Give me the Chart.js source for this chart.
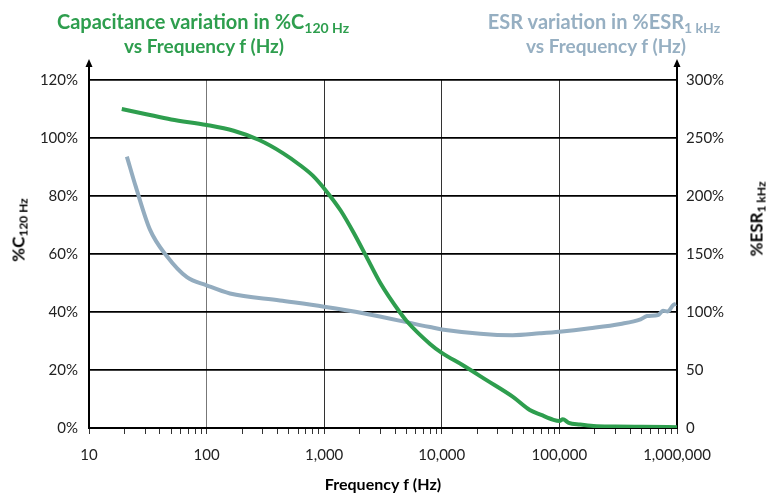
<!DOCTYPE html>
<html>
<head>
<meta charset="utf-8">
<script src="https://cdn.jsdelivr.net/npm/chart.js@4/dist/chart.umd.min.js"></script>
<style>
  body { margin: 0; background: #fff; overflow: hidden; }
  #wrap { position: relative; width: 768px; height: 494px; font-family: Lato, "Open Sans", sans-serif; }
  canvas { position: absolute; left: 0; top: 0; }
  .ttl { position: absolute; font-weight: bold; line-height: 24px; text-align: center; white-space: nowrap; transform: translateX(-50%); }
  .ttl.l1 { font-size: 20px; top: 9px; }
  .ttl.l2 { font-size: 19px; top: 34px; }
  .ttl sub { font-size: 14px; vertical-align: -4px; }
  .ytitle { position: absolute; font-weight: bold; font-size: 17px; white-space: nowrap; color: #000; }
  .ytitle sub { font-size: 12px; vertical-align: -3px; }
</style>
</head>
<body>
<div id="wrap">
  <canvas id="chart" width="768" height="494"></canvas>
  <div class="ttl l1" style="left:203px; color:#2e9e4e;">Capacitance variation in %C<sub>120 Hz</sub></div>
  <div class="ttl l2" style="left:204px; color:#2e9e4e;">vs Frequency f (Hz)</div>
  <div class="ttl l1" style="left:604px; color:#96afc2;">ESR variation in %ESR<sub>1 kHz</sub></div>
  <div class="ttl l2" style="left:606px; color:#96afc2;">vs Frequency f (Hz)</div>
  <div class="ytitle" style="left:19px; top:230px; transform: translate(-50%,-50%) rotate(-90deg);">%C<sub>120 Hz</sub></div>
  <div class="ytitle" style="left:757px; top:219px; transform: translate(-50%,-50%) rotate(-90deg);">%ESR<sub>1 kHz</sub></div>
</div>
<script>
// Capacitance variation (% of C at 120 Hz), left axis
const capFreq = [19, 30, 50, 100, 170, 280, 445, 620, 800, 1050, 1380, 1800, 2290, 3000, 4380, 5000, 7940, 10000, 15000, 24000, 40000, 56000, 70000, 89000, 100000, 107000, 120000, 150000, 195000, 300000, 500000, 1000000];
const capValues = [110, 108.3, 106.4, 104.5, 102.5, 99.3, 94.8, 90.7, 87, 81.5, 75, 67, 59, 50, 40, 37, 29, 25.9, 21.7, 16.5, 10.8, 6.2, 4.5, 2.8, 2.4, 3, 1.8, 1.2, 0.7, 0.5, 0.4, 0.3];

// ESR variation (% of ESR at 1 kHz), right axis
const esrFreq = [21, 25, 33, 46, 68, 100, 158, 420, 1000, 2150, 7940, 10000, 40000, 68000, 100000, 182000, 330000, 490000, 555000, 690000, 760000, 835000, 930000, 980000];
const esrValues = [234, 208, 171, 148, 130, 123, 116, 110, 104.6, 99, 87, 85, 80, 81.6, 83, 86, 89.7, 93.7, 96.5, 97.4, 101, 100.5, 106, 107];

// Axis ticks
const decades = [10, 100, 1000, 10000, 100000, 1000000];
const leftTicks = [0, 20, 40, 60, 80, 100, 120];
const rightTicks = [0, 50, 100, 150, 200, 250, 300];

const green = '#2e9e4e';
const blueGrey = '#93acbf';
const font = { family: 'Lato, "Open Sans", sans-serif', size: 15 };

// x ticks: decades plus 2..9 multiples (only decades labelled)
const xTickValues = [];
decades.forEach((d, i) => {
    xTickValues.push(d);
    if (i < decades.length - 1) {
        for (let m = 2; m <= 9; m++) xTickValues.push(d * m);
    }
});

// little arrow heads on top of both value axes
const arrows = {
    id: 'arrows',
    afterDraw(chart) {
        const { ctx, chartArea } = chart;
        ctx.save();
        ctx.strokeStyle = '#000';
        ctx.fillStyle = '#000';
        ctx.lineWidth = 2;
        [chartArea.left, chartArea.right].forEach(x => {
            ctx.beginPath();
            ctx.moveTo(x, chartArea.top);
            ctx.lineTo(x, 65);
            ctx.stroke();
            ctx.beginPath();
            ctx.moveTo(x - 3.5, 67);
            ctx.lineTo(x, 59);
            ctx.lineTo(x + 3.5, 67);
            ctx.closePath();
            ctx.fill();
        });
        ctx.restore();
    }
};

new Chart(document.getElementById('chart'), {
    type: 'line',
    data: {
        datasets: [
            {
                label: '%C120 Hz',
                data: capFreq.map((f, i) => ({ x: f, y: capValues[i] })),
                borderColor: green,
                borderWidth: 4,
                pointRadius: 0,
                cubicInterpolationMode: 'monotone',
                yAxisID: 'y'
            },
            {
                label: '%ESR1 kHz',
                data: esrFreq.map((f, i) => ({ x: f, y: esrValues[i] })),
                borderColor: blueGrey,
                borderWidth: 4,
                pointRadius: 0,
                cubicInterpolationMode: 'monotone',
                yAxisID: 'y2'
            }
        ]
    },
    options: {
        responsive: false,
        animation: false,
        devicePixelRatio: 1,
        layout: { padding: { top: 80, left: 0, right: 0, bottom: 0 } },
        plugins: { legend: { display: false }, tooltip: { enabled: false } },
        scales: {
            x: {
                type: 'logarithmic',
                min: 10,
                max: 1000000,
                afterBuildTicks: scale => { scale.ticks = xTickValues.map(v => ({ value: v })); },
                afterFit: scale => { scale.height = 66; },
                ticks: {
                    autoSkip: false,
                    maxRotation: 0,
                    padding: 12,
                    color: '#222',
                    font: font,
                    callback: v => decades.includes(v) ? v.toLocaleString('en-US') : ''
                },
                grid: {
                    color: c => {
                        if (!c.tick || !decades.includes(c.tick.value)) return 'rgba(0,0,0,0)';
                        return c.tick.value === 100 ? '#777' : '#333';
                    },
                    tickColor: '#333',
                    tickLength: 6,
                    lineWidth: 1
                },
                border: { color: '#000', width: 2 },
                title: {
                    display: true,
                    text: 'Frequency f (Hz)',
                    color: '#000',
                    font: { family: font.family, size: 16, weight: 'bold' },
                    padding: { top: 2, bottom: 0 }
                }
            },
            y: {
                position: 'left',
                min: 0,
                max: 120,
                afterBuildTicks: scale => { scale.ticks = leftTicks.map(v => ({ value: v })); },
                afterFit: scale => { scale.width = 89; },
                ticks: { color: '#222', font: font, padding: 11, callback: v => v + '%' },
                grid: { color: '#000', lineWidth: 1.8, drawTicks: false },
                border: { color: '#000', width: 2 }
            },
            y2: {
                position: 'right',
                min: 0,
                max: 300,
                afterBuildTicks: scale => { scale.ticks = rightTicks.map(v => ({ value: v })); },
                afterFit: scale => { scale.width = 91; },
                ticks: { color: '#222', font: font, padding: 9, callback: v => v >= 100 ? v + '%' : String(v) },
                grid: { drawOnChartArea: false, drawTicks: false },
                border: { color: '#000', width: 2 }
            }
        }
    },
    plugins: [arrows]
});
</script>
</body>
</html>
